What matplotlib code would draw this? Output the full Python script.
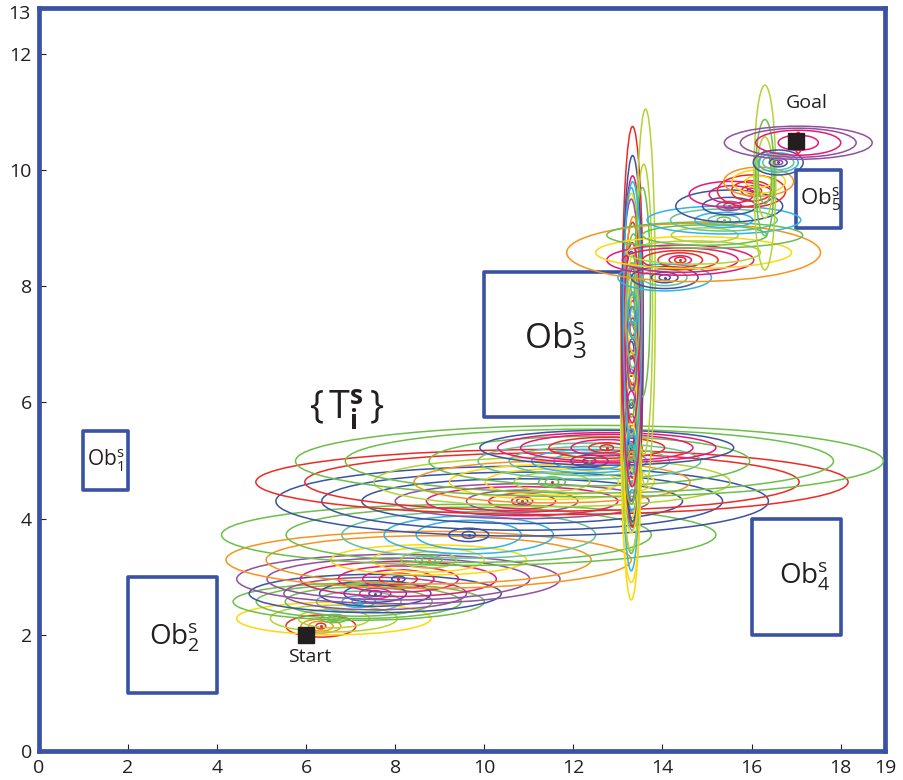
import matplotlib
matplotlib.use('Agg')
import matplotlib.pyplot as plt
from matplotlib.patches import Ellipse, Rectangle

plt.rcParams['font.family'] = ['Open Sans', 'DejaVu Sans']
plt.rcParams['mathtext.fontset'] = 'custom'
plt.rcParams['mathtext.rm'] = 'Open Sans'
plt.rcParams['mathtext.it'] = 'Open Sans:italic'
plt.rcParams['mathtext.bf'] = 'Open Sans:bold'

PAL = {'R': '#EE2A24', 'M': '#E6197A', 'O': '#F7941E', 'Y': '#FFD80A',
       'YG': '#B5D234', 'G': '#6CBF4A', 'T': '#62C39A', 'C': '#2DB5E5',
       'B': '#3B53A4', 'P': '#9150A0'}
BLUE = '#3A52A4'

# ---------------- data ----------------
x_ticks = [0, 2, 4, 6, 8, 10, 12, 14, 16, 18, 19]
y_ticks = [0, 2, 4, 6, 8, 10, 12]

obs_x0 = [1, 2, 10, 16, 17]
obs_x1 = [2, 4, 13.1, 18, 18]
obs_y0 = [4.5, 1, 5.75, 2, 9]
obs_y1 = [5.5, 3, 8.25, 4, 10]
obs_names = ['1', '2', '3', '4', '5']

start_xy = (6, 2)
goal_xy = (17, 10.5)

# waypoint centres of the uncertainty ellipses
wp_x = [6.33, 6.62, 7.18, 7.55, 8.07, 8.75, 9.65, 10.85, 11.52, 12.36, 12.75,
        13.32, 13.32, 13.30, 13.30, 13.30, 13.30, 13.30, 13.33, 13.33, 13.35, 13.35, 13.62, 13.58, 13.55,
        13.30, 13.30, 13.32, 13.33,
        14.05, 14.40, 14.70, 14.95, 15.38, 15.50, 15.55, 16.00, 16.16, 16.30, 16.60, 17.05]
wp_y = [2.15, 2.28, 2.57, 2.71, 2.96, 3.29, 3.72, 4.30, 4.63, 4.99, 5.22,
        4.40, 4.90, 5.40, 5.90, 6.40, 6.10, 6.90, 7.30, 7.10, 7.70, 8.00, 7.80, 7.60, 7.90,
        4.70, 5.15, 6.65, 7.50,
        8.15, 8.45, 8.58, 8.88, 9.14, 9.38, 9.58, 9.64, 9.80, 9.87, 10.13, 10.47]
ring_w = [
    [0.22, 0.55, 0.9, 1.57],
    [0.25, 0.6, 1.6, 2.85, 4.36],
    [0.3, 0.75, 1.9, 3.3, 4.6, 5.64],
    [0.28, 0.7, 1.4, 2.5, 4.1, 5.66],
    [0.3, 0.85, 1.6, 2.7, 4.4, 5.9, 7.26],
    [0.3, 0.6, 1.24, 2.5, 4.4, 7.3, 9.1],
    [0.3, 0.9, 2.36, 3.8, 5.7, 8.2, 11.1],
    [0.25, 0.47, 1.5, 2.5, 4.3, 5.7, 7.2, 9.0, 11.06],
    [0.3, 0.6, 1.7, 3.0, 4.6, 6.2, 8.0, 11.1, 13.3],
    [0.3, 0.84, 1.6, 2.6, 3.6, 5.0, 7.2, 10.96, 13.2],
    [0.3, 0.8, 1.6, 2.6, 3.87, 4.9, 5.7],
    [0.1, 0.18, 0.26],
    [0.12, 0.2, 0.28, 0.34],
    [0.12, 0.22, 0.3, 0.38],
    [0.12, 0.22, 0.3, 0.38, 0.44],
    [0.14, 0.24, 0.32, 0.4, 0.46],
    [0.48],
    [0.12, 0.22, 0.3, 0.38, 0.44],
    [0.12, 0.22, 0.32, 0.4, 0.45, 0.48],
    [0.46],
    [0.12, 0.2, 0.3, 0.38],
    [0.12, 0.22, 0.32],
    [0.44],
    [0.4],
    [0.36],
    [0.12, 0.22, 0.32, 0.42],
    [0.12, 0.22, 0.3, 0.4],
    [0.12, 0.2, 0.3, 0.42],
    [0.1, 0.2, 0.3, 0.42],
    [0.25, 0.6, 1.0, 1.5, 2.1],
    [0.25, 0.5, 1.0, 1.7, 2.6, 3.3],
    [3.0, 4.4, 5.7],
    [1.5, 2.8, 4.4],
    [0.3, 0.7, 1.3, 2.4, 3.45],
    [0.25, 0.55, 1.2, 2.4],
    [1.0, 1.9],
    [0.2, 0.45, 0.9, 1.53],
    [0.6, 1.2, 1.57],
    [0.3, 0.36, 0.42, 0.49],
    [0.2, 0.4, 0.7, 0.9, 1.12],
    [0.16, 0.9, 1.91, 2.6, 3.32],
]
ring_h = [
    [0.1, 0.17, 0.24, 0.38],
    [0.1, 0.14, 0.32, 0.46, 0.56],
    [0.1, 0.2, 0.36, 0.5, 0.58, 0.64],
    [0.1, 0.18, 0.3, 0.44, 0.56, 0.66],
    [0.1, 0.2, 0.32, 0.45, 0.6, 0.72, 0.85],
    [0.12, 0.16, 0.28, 0.42, 0.52, 0.83, 0.98],
    [0.12, 0.23, 0.5, 0.65, 0.8, 0.95, 1.05],
    [0.1, 0.15, 0.27, 0.38, 0.5, 0.6, 0.77, 1.0, 1.2],
    [0.12, 0.18, 0.32, 0.45, 0.6, 0.72, 0.85, 1.0, 1.12],
    [0.1, 0.2, 0.3, 0.4, 0.5, 0.62, 0.85, 1.1, 1.23],
    [0.1, 0.17, 0.28, 0.36, 0.46, 0.52, 0.6],
    [0.2, 0.5, 1.0],
    [0.25, 0.6, 1.2, 2.2],
    [0.3, 0.8, 1.6, 2.8],
    [0.3, 0.9, 1.8, 3.2, 5.0],
    [0.35, 1.0, 2.0, 3.6, 6.6],
    [7.0],
    [0.3, 0.9, 1.9, 3.4, 5.2],
    [0.3, 0.9, 2.0, 3.6, 5.2, 6.9],
    [6.3],
    [0.3, 0.8, 1.7, 3.0],
    [0.3, 0.8, 1.8],
    [6.5],
    [5.0],
    [3.6],
    [0.3, 0.9, 1.9, 3.6],
    [0.3, 0.8, 1.8, 3.4],
    [0.3, 0.9, 2.0, 4.2],
    [0.3, 0.8, 1.8, 4.6],
    [0.1, 0.18, 0.28, 0.38, 0.46],
    [0.1, 0.15, 0.25, 0.33, 0.42, 0.52],
    [0.4, 0.55, 1.0],
    [0.25, 0.35, 0.45],
    [0.1, 0.17, 0.26, 0.38, 0.48],
    [0.1, 0.16, 0.3, 0.55],
    [0.3, 0.45],
    [0.1, 0.18, 0.35, 0.55],
    [0.2, 0.4, 0.5],
    [0.9, 1.4, 2.0, 3.18],
    [0.08, 0.15, 0.25, 0.33, 0.43],
    [0.36, 0.26, 0.43, 0.5, 0.57],
]
ring_c = [
    'R O O R', 'G G YG YG Y', 'C C T G G G', 'B P B B P B', 'B R M M M P P',
    'G G YG Y Y O O', 'B B C C T G G', 'B M M P M P B B B', 'G G YG Y Y O YG R R',
    'B B C C T T G G G', 'R R M R M M B',
    'C C G', 'B P B C', 'M R M Y', 'G YG G Y G', 'C B C C C', 'Y', 'B B P B P',
    'R M R R M R', 'B', 'Y O Y O', 'G YG G', 'YG', 'YG', 'G',
    'Y O Y Y', 'G C G YG', 'M P M M', 'C C T C',
    'B B T B C', 'R M R R M M', 'YG Y O', 'YG G G', 'G T C T C', 'P P B B', 'M M',
    'M R R R', 'Y Y O', 'G YG G YG', 'P B T C B', 'R M M P P',
]
dot_c = ['R', 'G', 'C', 'B', 'R', 'O', 'B', 'R', 'R', 'G', 'R',
         '', '', '', '', '', '', '', '', '', '', '', '', '', '',
         '', '', '', '',
         'B', 'R', '', '', 'G', 'P', '', 'M', '', '', 'B', '']

# ---------------- figure ----------------
fig = plt.figure(figsize=(9.04, 7.8), dpi=100)
ax = fig.add_axes([0.0431, 0.0372, 0.936, 0.9526])
ax.set_xlim(0, 19)
ax.set_ylim(0, 12.79)

# obstacles
for x0, x1, y0, y1 in zip(obs_x0, obs_x1, obs_y0, obs_y1):
    ax.add_patch(Rectangle((x0, y0), x1 - x0, y1 - y0, fill=False,
                           ec=BLUE, lw=2.6, joinstyle='round', zorder=2))

# ellipses
for cx, cy, ws, hs, cs in zip(wp_x, wp_y, ring_w, ring_h, ring_c):
    for w, h, c in zip(ws, hs, cs.split()):
        ax.add_patch(Ellipse((cx, cy), w, h, fill=False, ec=PAL[c], lw=1.1, zorder=3))
for cx, cy, c in zip(wp_x, wp_y, dot_c):
    if c:
        ax.plot(cx, cy, 'o', ms=2.2, color=PAL[c], mec='none', zorder=4)

# start / goal
ax.plot(*start_xy, 's', ms=12, color='#231F20', zorder=5)
ax.plot(*goal_xy, 's', ms=12, color='#231F20', zorder=5)
ax.text(6.07, 1.62, 'Start', fontsize=14, ha='center', va='center', color='#231F20')
ax.text(17.23, 11.15, 'Goal', fontsize=14, ha='center', va='center', color='#231F20')

# obstacle labels
lab_pos = [(1.5, 5.0), (3.05, 1.95), (11.6, 7.05), (17.2, 3.0), (17.55, 9.5)]
lab_size = [15, 20, 25, 20, 16]
for (lx, ly), fs, n in zip(lab_pos, lab_size, obs_names):
    ax.text(lx, ly, r'$\mathrm{Ob}_{\mathrm{%s}}^{\mathrm{s}}$' % n, fontsize=fs,
            ha='center', va='center', color='#231F20', zorder=6)
ax.text(6.9, 5.87, r'$\{\,\mathrm{T}_{\mathbf{i}}^{\mathbf{s}}\,\}$', fontsize=27,
        ha='center', va='center', color='#231F20')

# axes styling
for sp in ax.spines.values():
    sp.set_color(BLUE)
    sp.set_linewidth(3.4)
ax.set_xticks(x_ticks)
ax.set_xticklabels([str(v) for v in x_ticks])
ax.set_yticks(y_ticks)
ax.set_yticklabels([str(v) for v in y_ticks])
ax.tick_params(direction='in', length=5, width=0.8, color='#231F20', labelsize=14,
               labelcolor='#231F20', top=False, right=False)
ax.tick_params(axis='x', pad=6)
ax.tick_params(axis='y', pad=5)
ax.text(-0.2, 12.68, '13', fontsize=14, ha='right', va='center', color='#231F20',
        clip_on=False)

fig.savefig('out.png', dpi=100)
